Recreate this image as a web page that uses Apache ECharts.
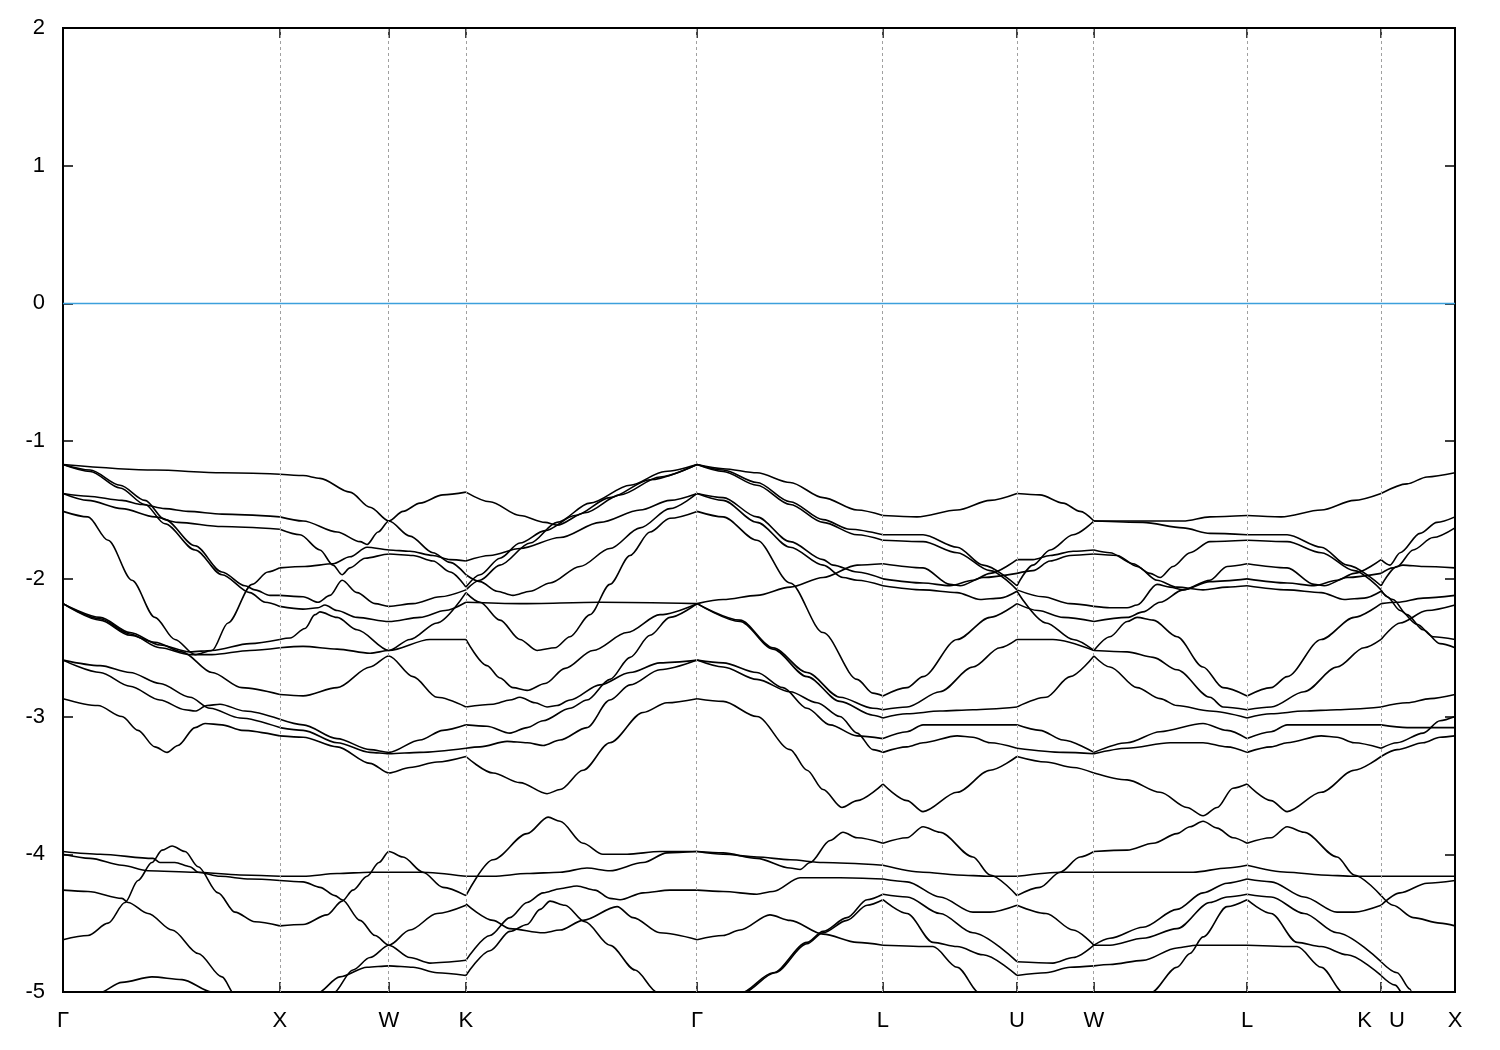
<!DOCTYPE html>
<html>
<head>
<meta charset="utf-8">
<script src="https://cdn.jsdelivr.net/npm/echarts@6/dist/echarts.min.js"></script>
<style>
html,body{margin:0;padding:0;background:#fff;}
#chart{width:1500px;height:1050px;}
</style>
</head>
<body>
<div id="chart"></div>
<script>
// High-symmetry points along the k-path (units of 2*pi/a)
const kTicks = [0, 1.0, 1.503, 1.858, 2.924, 3.781, 4.399, 4.754, 5.460, 6.078, 6.419];
const kLabels = ['Γ', 'X', 'W', 'K', 'Γ', 'L', 'U', 'W', 'L', 'K\u2002 U', 'X'];
const yTicks = [-5, -4, -3, -2, -1, 0, 1, 2];
const fermiLevel = [[0, 0], [6.419, 0]];

// Bands, segment by segment: each curve is a list of [k, E(eV)]
const gammaX = [
 [[0,-1.17],[0.424,-1.21],[0.733,-1.23],[1.0,-1.24]],
 [[0,-1.17],[0.125,-1.21],[0.263,-1.32],[0.378,-1.43],[0.470,-1.57],[0.609,-1.76],[0.733,-1.95],[0.839,-2.05],[0.885,-2.08],[0.955,-2.12],[1.0,-2.12]],
 [[0,-1.17],[0.125,-1.22],[0.263,-1.34],[0.378,-1.46],[0.470,-1.60],[0.609,-1.79],[0.733,-1.97],[0.862,-2.10],[0.932,-2.17],[1.0,-2.20]],
 [[0,-1.38],[0.115,-1.40],[0.272,-1.43],[0.364,-1.46],[0.470,-1.49],[0.576,-1.51],[0.733,-1.53],[1.0,-1.55]],
 [[0,-1.38],[0.115,-1.43],[0.272,-1.49],[0.424,-1.55],[0.530,-1.59],[0.733,-1.62],[1.0,-1.64]],
 [[0,-1.51],[0.115,-1.55],[0.208,-1.72],[0.318,-2.01],[0.424,-2.28],[0.516,-2.44],[0.609,-2.55],[0.687,-2.52],[0.761,-2.32],[0.872,-2.04],[0.945,-1.95],[1.0,-1.92]],
 [[0,-2.18],[0.171,-2.28],[0.309,-2.39],[0.447,-2.48],[0.586,-2.53],[0.687,-2.52],[0.862,-2.47],[1.0,-2.44]],
 [[0,-2.18],[0.171,-2.29],[0.309,-2.40],[0.447,-2.50],[0.586,-2.55],[0.687,-2.55],[0.862,-2.52],[1.0,-2.50]],
 [[0,-2.18],[0.171,-2.30],[0.309,-2.41],[0.424,-2.46],[0.549,-2.53],[0.687,-2.68],[0.825,-2.79],[1.0,-2.84]],
 [[0,-2.59],[0.171,-2.63],[0.309,-2.68],[0.447,-2.76],[0.586,-2.86],[0.678,-2.94],[0.816,-3.01],[1.0,-3.08]],
 [[0,-2.59],[0.171,-2.68],[0.309,-2.78],[0.447,-2.88],[0.563,-2.95],[0.609,-2.96],[0.664,-2.92],[0.724,-2.91],[0.839,-2.96],[1.0,-3.02]],
 [[0,-2.87],[0.161,-2.92],[0.272,-3.00],[0.346,-3.10],[0.424,-3.22],[0.480,-3.26],[0.530,-3.21],[0.609,-3.08],[0.655,-3.05],[0.733,-3.06],[0.825,-3.10],[1.0,-3.14]],
 [[0,-3.98],[0.171,-4.00],[0.415,-4.03],[0.447,-4.06],[0.516,-4.06],[0.586,-4.09],[0.623,-4.13],[0.724,-4.16],[0.862,-4.18],[1.0,-4.19]],
 [[0,-4.00],[0.125,-4.03],[0.272,-4.08],[0.392,-4.12],[0.609,-4.13],[0.816,-4.15],[1.0,-4.16]],
 [[0,-4.62],[0.115,-4.59],[0.208,-4.50],[0.286,-4.35],[0.346,-4.19],[0.410,-4.06],[0.457,-3.97],[0.503,-3.94],[0.563,-3.98],[0.623,-4.09],[0.715,-4.28],[0.793,-4.42],[0.885,-4.49],[1.0,-4.52]],
 [[0,-4.26],[0.115,-4.27],[0.272,-4.32],[0.300,-4.35],[0.392,-4.43],[0.503,-4.55],[0.623,-4.72],[0.733,-4.89],[0.793,-5.02],[0.83,-5.2]],
 [[0.125,-5.06],[0.161,-5.01],[0.272,-4.93],[0.410,-4.89],[0.549,-4.91],[0.687,-5.0],[0.724,-5.06]]
];

const xToK = [
 [[1.0,-1.24],[1.107,-1.25],[1.185,-1.27],[1.323,-1.37],[1.416,-1.48],[1.503,-1.58],[1.600,-1.69],[1.706,-1.81],[1.785,-1.88],[1.858,-1.97]],
 [[1.0,-1.55],[1.107,-1.58],[1.264,-1.66],[1.370,-1.73],[1.402,-1.75],[1.453,-1.66],[1.503,-1.58],[1.568,-1.51],[1.646,-1.45],[1.752,-1.39],[1.858,-1.37]],
 [[1.0,-1.64],[1.093,-1.68],[1.185,-1.79],[1.245,-1.90],[1.287,-1.97],[1.323,-1.92],[1.393,-1.85],[1.503,-1.82],[1.614,-1.83],[1.706,-1.87],[1.785,-1.95],[1.858,-2.06]],
 [[1.0,-1.92],[1.116,-1.91],[1.245,-1.89],[1.323,-1.84],[1.402,-1.77],[1.503,-1.79],[1.600,-1.80],[1.706,-1.83],[1.785,-1.86],[1.858,-1.87]],
 [[1.0,-2.12],[1.107,-2.13],[1.176,-2.17],[1.231,-2.12],[1.287,-2.01],[1.356,-2.10],[1.439,-2.18],[1.503,-2.20],[1.614,-2.18],[1.739,-2.13],[1.858,-2.08]],
 [[1.0,-2.20],[1.107,-2.22],[1.176,-2.21],[1.208,-2.19],[1.264,-2.23],[1.356,-2.28],[1.503,-2.31],[1.646,-2.28],[1.762,-2.23],[1.858,-2.17]],
 [[1.0,-2.44],[1.047,-2.43],[1.116,-2.36],[1.162,-2.26],[1.185,-2.24],[1.264,-2.28],[1.356,-2.37],[1.503,-2.52],[1.692,-2.44],[1.858,-2.44]],
 [[1.0,-2.50],[1.107,-2.49],[1.264,-2.51],[1.416,-2.54],[1.503,-2.52],[1.600,-2.44],[1.725,-2.32],[1.858,-2.10]],
 [[1.0,-2.84],[1.107,-2.85],[1.264,-2.79],[1.416,-2.64],[1.503,-2.56],[1.614,-2.71],[1.725,-2.86],[1.858,-2.93]],
 [[1.0,-3.02],[1.107,-3.06],[1.264,-3.16],[1.416,-3.24],[1.503,-3.26],[1.646,-3.17],[1.752,-3.10],[1.858,-3.06]],
 [[1.0,-3.08],[1.107,-3.10],[1.264,-3.19],[1.416,-3.26],[1.503,-3.27],[1.646,-3.26],[1.858,-3.23]],
 [[1.0,-3.14],[1.107,-3.15],[1.264,-3.22],[1.416,-3.34],[1.503,-3.41],[1.600,-3.37],[1.725,-3.33],[1.858,-3.29]],
 [[1.0,-4.16],[1.107,-4.16],[1.264,-4.14],[1.416,-4.13],[1.503,-4.13],[1.646,-4.13],[1.858,-4.16]],
 [[1.0,-4.19],[1.107,-4.20],[1.185,-4.24],[1.254,-4.30],[1.287,-4.33],[1.370,-4.48],[1.439,-4.59],[1.503,-4.66],[1.600,-4.75],[1.692,-4.79],[1.858,-4.77]],
 [[1.0,-4.52],[1.107,-4.51],[1.217,-4.44],[1.287,-4.34],[1.337,-4.26],[1.402,-4.16],[1.457,-4.06],[1.503,-3.98],[1.568,-4.02],[1.660,-4.13],[1.752,-4.24],[1.858,-4.30]],
 [[1.222,-5.06],[1.245,-5.01],[1.337,-4.84],[1.416,-4.75],[1.503,-4.66],[1.600,-4.55],[1.725,-4.43],[1.858,-4.37]],
 [[1.139,-5.06],[1.171,-5.01],[1.277,-4.89],[1.402,-4.82],[1.503,-4.81],[1.614,-4.82],[1.725,-4.86],[1.858,-4.88]]
];

const kToGamma = [
 [[1.858,-1.37],[1.969,-1.44],[2.107,-1.54],[2.223,-1.59],[2.278,-1.61],[2.407,-1.52],[2.569,-1.39],[2.753,-1.26],[2.924,-1.17]],
 [[1.858,-1.97],[1.923,-2.02],[2.001,-2.09],[2.075,-2.12],[2.154,-2.09],[2.246,-2.03],[2.384,-1.91],[2.522,-1.78],[2.661,-1.63],[2.799,-1.49],[2.924,-1.38]],
 [[1.858,-2.06],[1.923,-1.97],[2.015,-1.85],[2.107,-1.74],[2.223,-1.65],[2.361,-1.54],[2.522,-1.41],[2.707,-1.28],[2.924,-1.17]],
 [[1.858,-2.08],[1.923,-2.01],[2.015,-1.90],[2.154,-1.74],[2.278,-1.59],[2.430,-1.45],[2.615,-1.32],[2.776,-1.22],[2.924,-1.17]],
 [[1.858,-1.87],[1.969,-1.83],[2.107,-1.78],[2.292,-1.70],[2.476,-1.59],[2.661,-1.50],[2.799,-1.43],[2.924,-1.38]],
 [[1.858,-2.10],[1.923,-2.17],[2.015,-2.30],[2.107,-2.44],[2.186,-2.52],[2.269,-2.50],[2.338,-2.42],[2.430,-2.26],[2.522,-2.04],[2.615,-1.83],[2.707,-1.66],[2.799,-1.56],[2.924,-1.51]],
 [[1.858,-2.17],[2.107,-2.18],[2.476,-2.17],[2.924,-2.18]],
 [[1.858,-2.44],[1.955,-2.63],[2.015,-2.72],[2.075,-2.79],[2.140,-2.81],[2.223,-2.76],[2.315,-2.65],[2.444,-2.52],[2.601,-2.39],[2.753,-2.26],[2.924,-2.18]],
 [[1.858,-2.93],[1.983,-2.91],[2.061,-2.88],[2.107,-2.86],[2.177,-2.90],[2.232,-2.93],[2.278,-2.92],[2.338,-2.88],[2.476,-2.77],[2.615,-2.68],[2.753,-2.61],[2.924,-2.59]],
 [[1.858,-3.06],[1.955,-3.07],[2.061,-3.12],[2.140,-3.08],[2.214,-3.03],[2.338,-2.94],[2.416,-2.88],[2.522,-2.73],[2.615,-2.57],[2.707,-2.41],[2.799,-2.28],[2.924,-2.18]],
 [[1.858,-3.23],[1.923,-3.22],[2.048,-3.18],[2.140,-3.19],[2.214,-3.21],[2.292,-3.17],[2.416,-3.08],[2.522,-2.88],[2.615,-2.77],[2.753,-2.66],[2.924,-2.59]],
 [[1.858,-3.29],[1.983,-3.41],[2.107,-3.48],[2.232,-3.56],[2.292,-3.53],[2.398,-3.39],[2.522,-3.19],[2.675,-2.97],[2.785,-2.90],[2.924,-2.87]],
 [[1.858,-4.30],[1.983,-4.04],[2.140,-3.85],[2.237,-3.73],[2.292,-3.76],[2.398,-3.92],[2.490,-4.00],[2.601,-4.00],[2.753,-3.98],[2.924,-3.98]],
 [[1.858,-4.16],[1.983,-4.16],[2.140,-4.14],[2.292,-4.13],[2.416,-4.10],[2.522,-4.12],[2.675,-4.06],[2.785,-3.99],[2.924,-3.98]],
 [[1.858,-4.36],[1.983,-4.48],[2.061,-4.54],[2.214,-4.57],[2.292,-4.55],[2.398,-4.48],[2.555,-4.38],[2.629,-4.46],[2.753,-4.57],[2.924,-4.62]],
 [[1.858,-4.77],[1.969,-4.59],[2.061,-4.46],[2.140,-4.35],[2.214,-4.28],[2.292,-4.25],[2.370,-4.23],[2.453,-4.26],[2.522,-4.32],[2.569,-4.33],[2.675,-4.28],[2.799,-4.26],[2.924,-4.26]],
 [[1.858,-4.88],[1.969,-4.70],[2.061,-4.56],[2.140,-4.51],[2.200,-4.40],[2.246,-4.34],[2.315,-4.37],[2.407,-4.49],[2.522,-4.66],[2.638,-4.84],[2.739,-5.0],[2.776,-5.06]]
];

const gammaL = [
 [[2.924,-1.17],[3.044,-1.20],[3.200,-1.23],[3.353,-1.30],[3.505,-1.41],[3.662,-1.50],[3.781,-1.54]],
 [[2.924,-1.17],[3.044,-1.21],[3.200,-1.30],[3.353,-1.44],[3.505,-1.57],[3.629,-1.64],[3.781,-1.68]],
 [[2.924,-1.17],[3.044,-1.22],[3.200,-1.32],[3.353,-1.46],[3.505,-1.59],[3.662,-1.68],[3.781,-1.72]],
 [[2.924,-1.38],[3.044,-1.41],[3.200,-1.55],[3.353,-1.73],[3.505,-1.86],[3.551,-1.90],[3.662,-1.95],[3.781,-2.00]],
 [[2.924,-1.38],[3.044,-1.43],[3.200,-1.59],[3.353,-1.77],[3.505,-1.90],[3.597,-1.99],[3.662,-2.01],[3.781,-2.05]],
 [[2.924,-2.18],[3.044,-2.15],[3.200,-2.12],[3.353,-2.06],[3.505,-1.99],[3.662,-1.90],[3.781,-1.89]],
 [[2.924,-1.51],[3.044,-1.55],[3.200,-1.72],[3.353,-2.03],[3.505,-2.39],[3.662,-2.73],[3.735,-2.83],[3.781,-2.85]],
 [[2.924,-2.18],[3.122,-2.30],[3.274,-2.50],[3.431,-2.68],[3.583,-2.86],[3.735,-2.94],[3.781,-2.95]],
 [[2.924,-2.18],[3.122,-2.31],[3.274,-2.51],[3.431,-2.71],[3.583,-2.89],[3.735,-2.99],[3.781,-3.01]],
 [[2.924,-2.59],[3.044,-2.61],[3.200,-2.68],[3.320,-2.79],[3.431,-2.94],[3.537,-3.06],[3.662,-3.14],[3.781,-3.16]],
 [[2.924,-2.59],[3.044,-2.64],[3.200,-2.73],[3.353,-2.82],[3.477,-2.90],[3.583,-3.00],[3.662,-3.12],[3.735,-3.24],[3.781,-3.26]],
 [[2.924,-2.87],[3.044,-2.89],[3.200,-3.00],[3.353,-3.24],[3.431,-3.39],[3.505,-3.53],[3.592,-3.66],[3.662,-3.61],[3.781,-3.49]],
 [[2.924,-3.98],[3.044,-3.99],[3.200,-4.03],[3.353,-4.10],[3.399,-4.11],[3.445,-4.06],[3.537,-3.90],[3.597,-3.84],[3.662,-3.88],[3.781,-3.92]],
 [[2.924,-3.98],[3.044,-4.00],[3.200,-4.02],[3.353,-4.04],[3.505,-4.06],[3.781,-4.08]],
 [[2.924,-4.26],[3.044,-4.27],[3.200,-4.29],[3.274,-4.27],[3.399,-4.17],[3.583,-4.17],[3.781,-4.18]],
 [[2.924,-4.62],[3.044,-4.59],[3.122,-4.55],[3.260,-4.44],[3.353,-4.48],[3.505,-4.58],[3.662,-4.64],[3.781,-4.66]],
 [[3.099,-5.06],[3.122,-5.01],[3.274,-4.86],[3.431,-4.64],[3.505,-4.56],[3.615,-4.46],[3.708,-4.33],[3.781,-4.29]],
 [[3.108,-5.06],[3.131,-5.01],[3.283,-4.86],[3.431,-4.65],[3.505,-4.57],[3.615,-4.48],[3.708,-4.37],[3.781,-4.33]]
];

// L-U; the symmetry-equivalent L-K segment shows the same bands
const lToU = [
 [[3.781,-1.54],[3.938,-1.55],[4.123,-1.50],[4.275,-1.43],[4.399,-1.38]],
 [[3.781,-1.68],[3.966,-1.68],[4.123,-1.77],[4.243,-1.90],[4.399,-2.05]],
 [[3.781,-1.72],[3.966,-1.73],[4.123,-1.81],[4.275,-1.94],[4.399,-2.08]],
 [[3.781,-2.00],[3.966,-2.03],[4.090,-2.05],[4.196,-2.01],[4.275,-1.96],[4.399,-1.86]],
 [[3.781,-2.05],[3.966,-2.08],[4.123,-2.10],[4.229,-2.15],[4.321,-2.14],[4.399,-2.09]],
 [[3.781,-1.89],[3.966,-1.92],[4.090,-2.04],[4.137,-2.05],[4.243,-1.99],[4.399,-1.96]],
 [[3.781,-2.85],[3.892,-2.79],[3.966,-2.71],[4.123,-2.44],[4.275,-2.28],[4.399,-2.18]],
 [[3.781,-2.95],[3.892,-2.93],[4.044,-2.82],[4.196,-2.64],[4.321,-2.50],[4.399,-2.44]],
 [[3.781,-3.01],[3.892,-2.98],[4.044,-2.96],[4.196,-2.95],[4.399,-2.93]],
 [[3.781,-3.16],[3.892,-3.11],[3.966,-3.06],[4.123,-3.06],[4.399,-3.06]],
 [[3.781,-3.26],[3.892,-3.22],[3.966,-3.19],[4.123,-3.14],[4.196,-3.15],[4.275,-3.19],[4.399,-3.23]],
 [[3.781,-3.49],[3.892,-3.61],[3.966,-3.69],[4.123,-3.55],[4.275,-3.39],[4.399,-3.29]],
 [[3.781,-3.92],[3.892,-3.88],[3.966,-3.80],[4.044,-3.84],[4.196,-4.02],[4.275,-4.15],[4.399,-4.30]],
 [[3.781,-4.08],[3.966,-4.13],[4.123,-4.15],[4.275,-4.16],[4.399,-4.16]],
 [[3.781,-4.18],[3.892,-4.20],[4.044,-4.31],[4.196,-4.42],[4.275,-4.42],[4.399,-4.37]],
 [[3.781,-4.66],[4.012,-4.67],[4.123,-4.82],[4.229,-5.01],[4.252,-5.06]],
 [[3.781,-4.29],[3.892,-4.31],[4.044,-4.43],[4.196,-4.57],[4.399,-4.78]],
 [[3.781,-4.33],[3.892,-4.43],[4.012,-4.64],[4.123,-4.67],[4.243,-4.73],[4.399,-4.88]]
];

const uToW = [
 [[4.399,-1.38],[4.505,-1.39],[4.612,-1.45],[4.690,-1.51],[4.754,-1.58]],
 [[4.399,-2.05],[4.473,-1.90],[4.552,-1.79],[4.658,-1.68],[4.754,-1.58]],
 [[4.399,-1.86],[4.473,-1.86],[4.552,-1.83],[4.658,-1.80],[4.754,-1.79]],
 [[4.399,-1.96],[4.473,-1.94],[4.552,-1.87],[4.644,-1.83],[4.754,-1.82]],
 [[4.399,-2.08],[4.519,-2.13],[4.644,-2.18],[4.754,-2.20]],
 [[4.399,-2.18],[4.496,-2.23],[4.612,-2.28],[4.754,-2.31]],
 [[4.399,-2.44],[4.565,-2.44],[4.754,-2.52]],
 [[4.399,-2.09],[4.533,-2.32],[4.658,-2.44],[4.754,-2.52]],
 [[4.399,-2.93],[4.533,-2.86],[4.644,-2.71],[4.754,-2.56]],
 [[4.399,-3.06],[4.505,-3.10],[4.612,-3.17],[4.754,-3.26]],
 [[4.399,-3.23],[4.612,-3.26],[4.754,-3.27]],
 [[4.399,-3.29],[4.533,-3.33],[4.658,-3.37],[4.754,-3.41]],
 [[4.399,-4.30],[4.505,-4.24],[4.598,-4.13],[4.690,-4.02],[4.754,-3.98]],
 [[4.399,-4.16],[4.612,-4.13],[4.754,-4.13]],
 [[4.399,-4.78],[4.565,-4.79],[4.658,-4.75],[4.754,-4.66]],
 [[4.399,-4.37],[4.533,-4.43],[4.658,-4.55],[4.754,-4.66]],
 [[4.399,-4.88],[4.533,-4.86],[4.644,-4.82],[4.754,-4.81]]
];

const wToL = [
 [[4.754,-1.58],[4.980,-1.58],[5.165,-1.58],[5.289,-1.55],[5.460,-1.54]],
 [[4.754,-1.58],[4.980,-1.59],[5.165,-1.63],[5.289,-1.67],[5.460,-1.68]],
 [[4.754,-1.79],[4.828,-1.81],[4.934,-1.89],[5.013,-1.96],[5.059,-1.99],[5.119,-1.91],[5.197,-1.81],[5.289,-1.73],[5.460,-1.72]],
 [[4.754,-1.82],[4.861,-1.83],[4.953,-1.91],[5.045,-2.01],[5.137,-2.06],[5.257,-2.08],[5.368,-2.06],[5.460,-2.05]],
 [[4.754,-2.20],[4.828,-2.21],[4.907,-2.21],[4.953,-2.19],[5.045,-2.04],[5.105,-2.06],[5.165,-2.08],[5.289,-2.01],[5.368,-1.91],[5.460,-1.89]],
 [[4.754,-2.31],[4.907,-2.28],[4.980,-2.24],[5.059,-2.17],[5.165,-2.08],[5.289,-2.02],[5.460,-2.00]],
 [[4.754,-2.52],[4.828,-2.42],[4.907,-2.31],[4.953,-2.28],[5.027,-2.30],[5.137,-2.42],[5.257,-2.64],[5.349,-2.79],[5.460,-2.85]],
 [[4.754,-2.52],[4.907,-2.53],[5.027,-2.57],[5.137,-2.66],[5.289,-2.86],[5.349,-2.93],[5.460,-2.95]],
 [[4.754,-2.56],[4.828,-2.64],[4.953,-2.79],[5.059,-2.87],[5.137,-2.92],[5.289,-2.96],[5.460,-3.01]],
 [[4.754,-3.26],[4.907,-3.19],[5.059,-3.11],[5.257,-3.05],[5.368,-3.10],[5.460,-3.16]],
 [[4.754,-3.27],[4.907,-3.23],[5.105,-3.19],[5.257,-3.19],[5.368,-3.22],[5.460,-3.26]],
 [[4.754,-3.41],[4.907,-3.46],[5.059,-3.55],[5.183,-3.66],[5.257,-3.72],[5.322,-3.66],[5.395,-3.52],[5.460,-3.49]],
 [[4.754,-3.98],[4.907,-3.97],[5.027,-3.92],[5.137,-3.85],[5.197,-3.80],[5.257,-3.76],[5.322,-3.81],[5.395,-3.88],[5.460,-3.92]],
 [[4.754,-4.13],[4.980,-4.13],[5.211,-4.13],[5.368,-4.10],[5.460,-4.08]],
 [[4.754,-4.66],[4.828,-4.61],[4.980,-4.53],[5.137,-4.40],[5.257,-4.28],[5.368,-4.21],[5.460,-4.18]],
 [[4.754,-4.66],[4.828,-4.66],[4.980,-4.61],[5.137,-4.54],[5.289,-4.35],[5.368,-4.31],[5.460,-4.29]],
 [[4.754,-4.81],[4.828,-4.80],[4.980,-4.77],[5.137,-4.68],[5.229,-4.66],[5.349,-4.66],[5.460,-4.66]],
 [[4.990,-5.06],[5.013,-5.01],[5.137,-4.82],[5.197,-4.72],[5.257,-4.60],[5.368,-4.38],[5.460,-4.33]]
];

const kToX = [
 [[6.078,-1.38],[6.198,-1.31],[6.290,-1.26],[6.419,-1.23]],
 [[6.078,-1.86],[6.119,-1.90],[6.166,-1.81],[6.258,-1.67],[6.336,-1.59],[6.419,-1.55]],
 [[6.078,-1.96],[6.133,-1.92],[6.179,-1.90],[6.272,-1.91],[6.419,-1.92]],
 [[6.078,-2.05],[6.152,-1.91],[6.226,-1.79],[6.318,-1.70],[6.419,-1.63]],
 [[6.078,-2.08],[6.106,-2.13],[6.166,-2.23],[6.244,-2.33],[6.318,-2.42],[6.419,-2.44]],
 [[6.078,-2.09],[6.133,-2.15],[6.198,-2.26],[6.272,-2.37],[6.350,-2.47],[6.419,-2.50]],
 [[6.078,-2.18],[6.152,-2.17],[6.272,-2.14],[6.419,-2.12]],
 [[6.078,-2.44],[6.166,-2.32],[6.290,-2.23],[6.419,-2.19]],
 [[6.078,-2.93],[6.198,-2.90],[6.304,-2.87],[6.419,-2.84]],
 [[6.078,-3.06],[6.198,-3.08],[6.419,-3.08]],
 [[6.078,-3.23],[6.152,-3.19],[6.272,-3.12],[6.350,-3.03],[6.419,-3.00]],
 [[6.078,-3.29],[6.152,-3.24],[6.272,-3.19],[6.350,-3.15],[6.419,-3.14]],
 [[6.078,-4.16],[6.198,-4.16],[6.419,-4.16]],
 [[6.078,-4.30],[6.133,-4.37],[6.226,-4.46],[6.350,-4.50],[6.419,-4.52]],
 [[6.078,-4.37],[6.166,-4.28],[6.290,-4.21],[6.419,-4.19]],
 [[6.078,-4.78],[6.152,-4.86],[6.212,-4.98],[6.226,-5.06]],
 [[6.078,-4.88],[6.143,-4.95],[6.179,-5.01],[6.202,-5.06]]
];

const lkShift = kTicks[8] - kTicks[5];

function bandSeries(curves, shift) {
  return curves.map(function (c) {
    return {
      type: 'line',
      data: shift ? c.map(function (p) { return [p[0] + shift, p[1]]; }) : c,
      showSymbol: false,
      symbol: 'none',
      smooth: 0.3,
      smoothMonotone: 'x',
      clip: true,
      silent: true,
      z: 3,
      lineStyle: { color: '#000', width: 1.6 },
      emphasis: { disabled: true }
    };
  });
}

function labelFor(v) {
  let best = 0, d = Infinity;
  kTicks.forEach(function (t, i) { const dd = Math.abs(t - v); if (dd < d) { d = dd; best = i; } });
  return kLabels[best];
}

const chart = echarts.init(document.getElementById('chart'), null, { renderer: 'canvas' });
const fontFam = '"Liberation Sans", Arial, Helvetica, sans-serif';

let series = [];
series.push({
  type: 'line', data: [], silent: true, z: 1,
  markLine: {
    silent: true, symbol: 'none', animation: false,
    label: { show: false },
    lineStyle: { color: '#a0a0a0', width: 1, type: [3, 3] },
    data: kTicks.slice(1, kTicks.length - 1).map(function (k) { return { xAxis: k }; })
  }
});
series.push({
  type: 'line', data: fermiLevel, showSymbol: false, symbol: 'none', silent: true, z: 2,
  lineStyle: { color: '#3ca0dc', width: 1.5 }
});
series = series
  .concat(bandSeries(gammaX))
  .concat(bandSeries(xToK))
  .concat(bandSeries(kToGamma))
  .concat(bandSeries(gammaL))
  .concat(bandSeries(lToU))
  .concat(bandSeries(uToW))
  .concat(bandSeries(wToL))
  .concat(bandSeries(lToU, lkShift))
  .concat(bandSeries(kToX));

const tickStyle = { color: '#000', width: 1.5 };

chart.setOption({
  animation: false,
  backgroundColor: '#fff',
  grid: { left: 63, right: 45, top: 28, bottom: 58, show: true, borderColor: '#000', borderWidth: 2, backgroundColor: 'transparent' },
  xAxis: [
    {
      type: 'value', min: 0, max: kTicks[kTicks.length - 1], position: 'bottom',
      axisLine: { show: false, onZero: false }, splitLine: { show: false },
      axisTick: { show: true, inside: true, length: 10, lineStyle: tickStyle, customValues: kTicks },
      axisLabel: { show: true, customValues: kTicks, formatter: labelFor, color: '#000', fontSize: 22, fontFamily: fontFam, margin: 18 }
    },
    {
      type: 'value', min: 0, max: kTicks[kTicks.length - 1], position: 'top',
      axisLine: { show: false, onZero: false }, splitLine: { show: false },
      axisTick: { show: true, inside: true, length: 10, lineStyle: tickStyle, customValues: kTicks },
      axisLabel: { show: false }
    }
  ],
  yAxis: [
    {
      type: 'value', min: yTicks[0], max: yTicks[yTicks.length - 1], interval: 1, position: 'left',
      axisLine: { show: false, onZero: false }, splitLine: { show: false },
      axisTick: { show: true, inside: true, length: 10, lineStyle: tickStyle },
      axisLabel: { show: true, color: '#000', fontSize: 22, fontFamily: fontFam, margin: 18 }
    },
    {
      type: 'value', min: yTicks[0], max: yTicks[yTicks.length - 1], interval: 1, position: 'right',
      axisLine: { show: false, onZero: false }, splitLine: { show: false },
      axisTick: { show: true, inside: true, length: 10, lineStyle: tickStyle },
      axisLabel: { show: false }
    }
  ],
  series: series
});
</script>
</body>
</html>
